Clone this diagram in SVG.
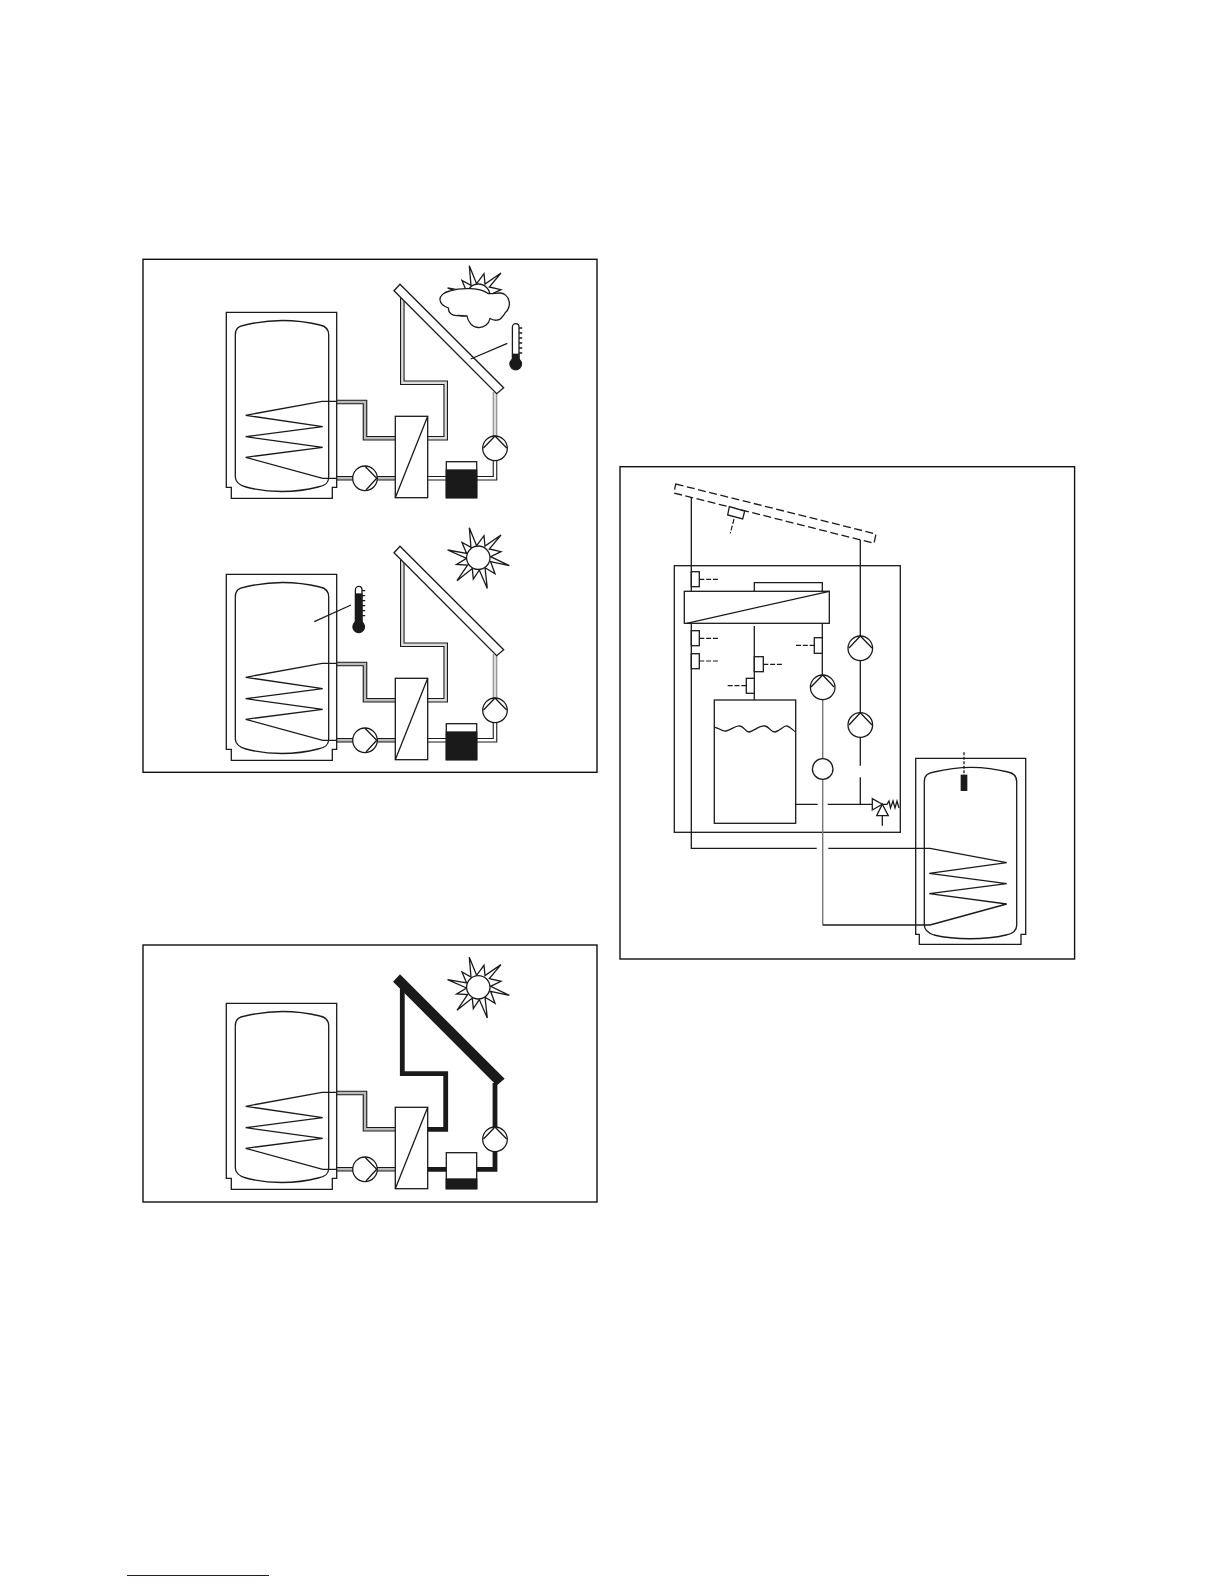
<svg xmlns="http://www.w3.org/2000/svg" xmlns:xlink="http://www.w3.org/1999/xlink" width="1224" height="1584" viewBox="0 0 1224 1584">
<style>
.l{fill:none;stroke:#1a1a1a;stroke-width:1.3}
.w{fill:#fff;stroke:#1a1a1a;stroke-width:1.3;stroke-linejoin:miter}
.f{fill:none;stroke:#111;stroke-width:1.4}
.k{fill:#1a1a1a;stroke:#1a1a1a;stroke-width:1.3}
.d{fill:none;stroke:#1a1a1a;stroke-width:1.3;stroke-dasharray:8 3.5}
.s{fill:none;stroke:#1a1a1a;stroke-width:1.2;stroke-dasharray:5 1.8}
.po{fill:none;stroke:#1a1a1a;stroke-width:4.6}
.po2{fill:none;stroke:#888;stroke-width:4.6}
.pg{fill:none;stroke:#bbb;stroke-width:2.4}
.pl{fill:none;stroke:#ddd;stroke-width:2.4}
.pw{fill:none;stroke:#fff;stroke-width:2.4}
.pb{fill:none;stroke:#1a1a1a;stroke-width:4.8}
.g{fill:none;stroke:#777;stroke-width:1.4}
</style>
<defs>
<g id="tank">
<path class="w" d="M226.3,312.3H336.7V487.3H332.3V498.3H231.3V487.3H226.3Z"/>
<path class="l" d="M235.3,335C235.3,328 239,326 245,325C270,319 295,319 320,325C325,326 328.7,329 328.7,335V476.7C328.7,484 324,486 318,487C295,493 268,493 246,487C239,485 235.3,482 235.3,476.7Z"/>
<path class="l" d="M336.7,401.3H322L245.7,415.3L322.7,426.7L245.7,436.7L322.7,447.3L245.7,457.3L322.7,478.3H336.7"/>
</g>
<g id="hx">
<rect class="w" x="395.3" y="416.3" width="32.4" height="81.4"/>
<path class="l" d="M395.3,497.7L427.7,416.3"/>
</g>
<g id="pump-left">
<circle class="w" cx="365" cy="478.3" r="12.3"/>
<path class="l" d="M365,466.3L376.7,478.3L366,490"/>
</g>
<g id="pump-right">
<circle class="w" cx="495" cy="448.3" r="12.3"/>
<path class="l" d="M483.5,448L495,436L506.7,448"/>
</g>
<g id="tank-pipes">
<path class="po" d="M336.7,402H365V438.3H395.3"/>
<path class="pg" d="M336.7,402H365V438.3H395.3"/>
<path class="po" d="M336.7,478.3H395.3"/>
<path class="pg" d="M336.7,478.3H395.3"/>
</g>
<g id="sun">
<path class="w" d="M-9,-30L-1.7,-12L5.7,-22L6.7,-11.7L22.7,-22.7L11,-8.7L22.7,-6L12.3,-1L31,8L12.3,4L16.7,16L6.7,10L9,30.7L1,12.3L-5,21.3L-6,10.7L-21.3,23L-10.7,7.3L-21.7,6.7L-11.7,.7L-30.7,-7.7L-11.7,-4.3L-16.3,-15.3L-7.3,-10.3Z"/>
<circle class="w" cx="0" cy="0" r="11.7"/>
</g>
<g id="thermo">
<path class="w" d="M-3.3,-37V-5H3.3V-37A3.3,3.3 0 0 0 -3.3,-37Z"/>
<path class="l" d="M3.3,-36H6.5M3.3,-31H6.5M3.3,-26H6.5M3.3,-21H6.5M3.3,-16H6.5M3.3,-11H6.5"/>
</g>
</defs>

<rect id="frame-1" class="f" x="143" y="259.3" width="454" height="513"/>
<rect id="frame-2" class="f" x="143" y="945" width="454" height="257"/>
<rect id="frame-3" class="f" x="620" y="466.7" width="454.6" height="492.3"/>

<g id="panel-a">
<g id="connectors-a">
<use href="#tank-pipes"/>
<path class="po" d="M402.3,298V382.7H445.7V438.3H427.7"/>
<path class="pl" d="M402.3,298V382.7H445.7V438.3H427.7"/>
<path class="po2" d="M495,392V437"/>
<path class="pl" d="M495,392V437"/>
<path class="po" d="M427.7,478.3H446M495,460V478.3H476.7"/>
<path class="pw" d="M427.7,478.3H446M495,460V478.3H476.7"/>
</g>
<g id="tank-a"><use href="#tank"/></g>
<g id="hx-a"><use href="#hx"/></g>
<g id="pump-a1"><use href="#pump-left"/></g>
<g id="pump-a2"><use href="#pump-right"/></g>
<g id="vessel-a"><rect class="w" x="446.3" y="461.7" width="30.4" height="36"/><rect class="k" x="446.3" y="470" width="30.4" height="27.7"/></g>
<polygon id="collector-a" class="w" points="394,290.7 400,284.3 503.7,387.7 496.7,393.7"/>
<g id="sun-a">
<path class="w" d="M447.6,288L466.6,291.4L462,280.4L471,285.4L469.3,265.7L476.6,283.7L484,273.7L485,284L501,273L489.3,287L501,289.7L490.6,294.7L466.6,296.4Z"/>
<circle class="w" cx="478.3" cy="295.7" r="11.7"/>
</g>
<path id="cloud" class="w" d="M450,291C444,292 439.5,296 440,300C440.5,304 444,306.5 448.5,308C448,313 452,316 458,315.5C461,316 464,316 467,316C468,322 472,327 478,327.5C484,328 489,324 490,318.5C494,321 500,321 502,317C504,315 505,314 505,313C509,310 510,304 509,301C508,296 504,293 500,293C496,293 492,294 488,293.5C481,288 462,287 450,291Z"/>
<path id="probe-a" class="l" d="M470.7,359L507.3,343.3"/>
<g id="thermometer-a">
<use href="#thermo" transform="translate(515.7,364)"/>
<circle class="k" cx="515.7" cy="364" r="5.8"/>
<rect class="k" x="512.6" y="354.3" width="6.2" height="8"/>
</g>
</g>

<g id="panel-b" transform="translate(0,262)">
<g id="connectors-b">
<use href="#tank-pipes"/>
<path class="po" d="M402.3,298V382.7H445.7V438.3H427.7"/>
<path class="pl" d="M402.3,298V382.7H445.7V438.3H427.7"/>
<path class="po2" d="M495,392V437"/>
<path class="pl" d="M495,392V437"/>
<path class="po" d="M427.7,478.3H446M495,460V478.3H476.7"/>
<path class="pw" d="M427.7,478.3H446M495,460V478.3H476.7"/>
</g>
<g id="tank-b"><use href="#tank"/></g>
<g id="hx-b"><use href="#hx"/></g>
<g id="pump-b1"><use href="#pump-left"/></g>
<g id="pump-b2"><use href="#pump-right"/></g>
<g id="vessel-b"><rect class="w" x="446.3" y="461.7" width="30.4" height="36"/><rect class="k" x="446.3" y="470" width="30.4" height="27.7"/></g>
<polygon id="collector-b" class="w" points="394,290.7 400,284.3 503.7,387.7 496.7,393.7"/>
<g id="sun-b"><use href="#sun" transform="translate(478.3,295.7)"/></g>
<path id="probe-b" class="l" d="M314.3,359.7L351,343"/>
<g id="thermometer-b">
<use href="#thermo" transform="translate(358.7,364.7)"/>
<circle class="k" cx="358.7" cy="364.7" r="5.8"/>
<rect class="k" x="355.6" y="332" width="6.2" height="30"/>
</g>
</g>

<g id="panel-c" transform="translate(0,691)">
<g id="connectors-c">
<use href="#tank-pipes"/>
<path class="pb" d="M402.3,298V382.7H445.7V438.3H427.7"/>
<path class="pb" d="M495,392V437"/>
<path class="pb" d="M427.7,478.3H446M495,460V478.3H476.7"/>
</g>
<g id="tank-c"><use href="#tank"/></g>
<g id="hx-c"><use href="#hx"/></g>
<g id="pump-c1"><use href="#pump-left"/></g>
<g id="pump-c2"><use href="#pump-right"/></g>
<g id="vessel-c"><rect class="w" x="446.3" y="461.7" width="30.4" height="36"/><rect class="k" x="446.3" y="488" width="30.4" height="9.7"/></g>
<polygon id="collector-c" class="k" points="394,290.7 400,284.3 503.7,387.7 496.7,393.7"/>
<g id="sun-c"><use href="#sun" transform="translate(478.3,296.3)"/></g>
</g>

<g id="panel-d">
<polygon id="collector-d" class="d" points="675.7,484 876,534 874,543.3 674,493"/>
<polygon id="collector-sensor" class="w" points="729.3,506.7 744.7,511 742.7,519 727.7,515"/>
<path class="s" d="M734,519L730.3,533.3"/>
<rect id="unit" class="l" x="674.3" y="565.7" width="226" height="266.6"/>
<g id="connectors-d">
<path class="l" d="M691.3,497.3V848.3H816.7M828.3,848.3H930"/>
<path class="l" d="M754.3,591.3V582.7H822.3V591.3"/>
<path class="l" d="M754.3,626V700"/>
<path class="l" d="M822.3,623.3V675"/>
<path class="g" d="M822.7,699.7V925"/>
<path class="l" d="M822.7,925H930"/>
<path class="l" d="M860.3,540V636M860.3,660.6V712.7M860.3,737.3V765.7M860.3,777.3V804.3"/>
<path class="l" d="M795,804.3H817.7M827.7,804.3H873.3"/>
</g>
<g id="hx-d"><rect class="w" x="684.3" y="591.3" width="145" height="32"/><path class="l" d="M686.7,623.3L829.3,591.3"/></g>
<g id="sensors-d">
<rect class="w" x="691.3" y="571.7" width="8" height="15"/><path class="s" d="M699.3,579.3H718.3"/>
<rect class="w" x="691.3" y="630.7" width="8" height="15"/><path class="s" d="M699.3,638.3H718.3"/>
<rect class="w" x="691.3" y="653.7" width="8" height="15"/><path class="s" d="M699.3,661H718.3"/>
<rect class="w" x="754.3" y="656.7" width="9" height="15"/><path class="s" d="M763.3,664.3H782"/>
<rect class="w" x="746.3" y="678.3" width="8" height="15"/><path class="s" d="M727.7,685.7H746.3"/>
<rect class="w" x="814.3" y="637.7" width="8" height="15.6"/><path class="s" d="M796,645.3H814.3"/>
</g>
<g id="vessel-d">
<rect class="w" x="714.3" y="700" width="81.4" height="123.3"/>
<path class="l" d="M714.7,727.3C720,728 722,732 726,731C731,730 736,725 740,726C745,727 745,732 749,732C754,731 760,725 765,726C770,727 770,732 775,732C780,731 784,725 787,726C791,727 793,731 796,732"/>
</g>
<g id="pump-d1"><circle class="w" cx="822.7" cy="687.3" r="12.3"/><path class="l" d="M811,687L822.7,675L834,687"/></g>
<g id="pump-d2"><circle class="w" cx="860.3" cy="648.3" r="12.3"/><path class="l" d="M849,648L860.3,636L872,648"/></g>
<g id="pump-d3"><circle class="w" cx="860.3" cy="725" r="12.3"/><path class="l" d="M849,725L860.3,712.7L872,725"/></g>
<circle id="meter-d" class="w" cx="822.7" cy="769" r="10.3"/>
<g id="valve-d">
<polygon class="w" points="872.3,798.7 872.3,810 882.3,804.3"/>
<polygon class="w" points="882.3,804.3 876.7,815.7 888.3,815.7"/>
<path class="l" d="M882.3,815.7V825.7M882.3,804.3H887L889,801L890.5,808L893,801L895,808L897,801L899,808"/>
</g>
<g id="tank-d">
<path class="l" d="M915.7,934.3V758.3H1025.7V934.3H1021V944.3H919.3V934.3Z"/>
<path class="l" d="M924.3,781.7C924.3,775 928,773 934,772C958,766 985,766 1008,772C1013,773 1016.7,776 1016.7,781.7V925C1016.7,932 1012,934 1006,935C985,940 955,940 934,935C928,933 924.3,930 924.3,925Z"/>
<path class="l" d="M930,848.3L1006.7,862.7L929.3,873.3L1006.7,883.7L929.3,893.7L1006.7,904L930,925"/>
<rect class="k" x="961.3" y="775.3" width="5.4" height="15"/>
<path class="l" d="M964,752.3V775" stroke-dasharray="3 1.5"/>
</g>
</g>
<path id="footer-rule" d="M127,1575.5H269" fill="none" stroke="#14148c" stroke-width="1.2"/>
</svg>
